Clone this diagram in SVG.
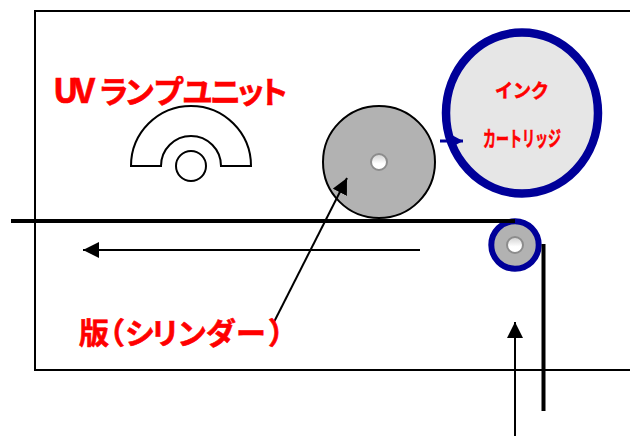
<svg xmlns="http://www.w3.org/2000/svg" width="630" height="436" viewBox="0 0 630 436">
<defs>
<style>
.lbl{font-family:"Noto Sans CJK JP","Liberation Sans",sans-serif;font-weight:700;fill:#ff0000;stroke:#ff0000;stroke-width:.6}
.thin{fill:none;stroke:#000;stroke-width:2}
.web{fill:none;stroke:#000;stroke-width:4}
.hub{fill:url(#hubg);stroke:#8c8c8c;stroke-width:2}
</style>
<linearGradient id="hubg" x1="0" y1="0" x2="0" y2="1"><stop offset="0" stop-color="#d0d0d0"/><stop offset="0.6" stop-color="#ffffff"/><stop offset="1" stop-color="#ffffff"/></linearGradient>
<marker id="ah" markerUnits="userSpaceOnUse" markerWidth="16" markerHeight="16" refX="16" refY="8" orient="auto"><path d="M0 0L16 8L0 16Z" fill="#000"/></marker>
<marker id="ahb" markerUnits="userSpaceOnUse" markerWidth="13" markerHeight="14" refX="13" refY="7" orient="auto"><path d="M0 0L13 7L0 14Z" fill="#000099"/></marker>
</defs>
<g id="frame"><path d="M640 11H35V370H640" fill="none" stroke="#000" stroke-width="2"/></g>
<g id="lamp">
<path class="thin" d="M131 166A60 60 0 0 1 251 166H221A30 30 0 0 0 161 166Z"/>
<circle class="thin" cx="191" cy="166" r="15"/>
<text class="lbl" y="103" font-size="31"><tspan font-size="34" x="53 74">UV</tspan><tspan x="98 124 153 182 210 235 258">ランプユニット</tspan></text>
</g>
<g id="cylinder">
<circle cx="379" cy="162" r="56" fill="#b2b2b2" stroke="#000" stroke-width="2"/>
<circle class="hub" cx="379" cy="162" r="8"/>
</g>
<g id="ink">
<ellipse cx="522" cy="113" rx="76" ry="80.5" fill="#e6e6e6" stroke="#000099" stroke-width="8.5"/>
<text class="lbl" x="495" y="98" font-size="19" textLength="54" lengthAdjust="spacingAndGlyphs">インク</text>
<text class="lbl" x="483" y="146" font-size="21" textLength="78" lengthAdjust="spacingAndGlyphs">カートリッジ</text>
</g>
<g id="roller">
<circle cx="515" cy="245" r="23.7" fill="#b2b2b2" stroke="#000099" stroke-width="6"/>
<circle class="hub" cx="515" cy="245" r="8"/>
</g>
<g id="connectors">
<path class="web" d="M11 221H515"/>
<path class="web" d="M543.5 244V411"/>
<path class="thin" d="M420 250H83" marker-end="url(#ah)"/>
<path class="thin" d="M515 436V322" marker-end="url(#ah)"/>
<path class="thin" d="M274 322L347 178" marker-end="url(#ah)"/>
<path d="M440 141H463" fill="none" stroke="#000099" stroke-width="3" marker-end="url(#ahb)"/>
</g>
<g id="plate-label"><text class="lbl" y="344" font-size="30" x="79 95 125 150 177 206 236 268">版（シリンダー）</text></g>
</svg>
